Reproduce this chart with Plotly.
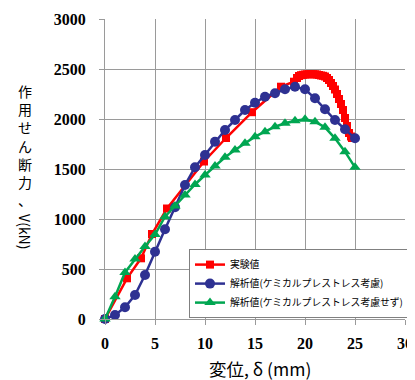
import plotly.graph_objects as go

# Experimental values (実験値)
exp_x = [0, 2.2, 3.6, 4.7, 6.2, 9.9, 12.1, 14.7, 17.6, 18.9, 19.2, 19.4, 19.6, 19.8, 20.0,
         20.2, 20.4, 20.6, 20.8, 21.0, 21.2, 21.4, 21.6, 21.8, 22.0, 22.2, 22.4, 22.6, 22.8,
         23.0, 23.2, 23.4, 23.6, 23.8, 24.0, 24.2, 24.4, 24.6, 24.7]
exp_y = [0, 407, 607, 850, 1105, 1575, 1810, 2068, 2323, 2373, 2410, 2430, 2438, 2442, 2445,
         2447, 2448, 2448, 2448, 2447, 2445, 2440, 2435, 2432, 2425, 2410, 2390, 2360, 2330,
         2295, 2250, 2200, 2150, 2090, 2010, 1930, 1860, 1825, 1810]

# Analysis with chemical prestress (解析値(ケミカルプレストレス考慮))
ana1_x = list(range(0, 26))
ana1_y = [0, 40, 117, 240, 440, 673, 897, 1117, 1340, 1517, 1640, 1773, 1890, 1990, 2090,
          2163, 2223, 2257, 2297, 2323, 2297, 2207, 2097, 1990, 1897, 1807]

# Analysis without chemical prestress (解析値(ケミカルプレストレス考慮せず))
ana2_x = list(range(0, 26))
ana2_y = [0, 223, 465, 600, 725, 845, 1023, 1130, 1240, 1345, 1440, 1530, 1617, 1690, 1757,
          1823, 1873, 1923, 1957, 1983, 1997, 1973, 1917, 1807, 1673, 1517]

names = ["実験値", "解析値(ケミカルプレストレス考慮)", "解析値(ケミカルプレストレス考慮せず)"]
x_ticks = [0, 5, 10, 15, 20, 25, 30]
y_ticks = [0, 500, 1000, 1500, 2000, 2500, 3000]

fig = go.Figure()
fig.add_trace(go.Scatter(x=exp_x, y=exp_y, mode="lines+markers", name=names[0],
                         line=dict(color="#FF0000", width=2.5),
                         marker=dict(symbol="square", size=8, color="#FF0000"),
                         cliponaxis=False))
fig.add_trace(go.Scatter(x=ana1_x, y=ana1_y, mode="lines+markers", name=names[1],
                         line=dict(color="#2E3192", width=2.5),
                         marker=dict(symbol="circle", size=10, color="#2E3192"),
                         cliponaxis=False))
fig.add_trace(go.Scatter(x=ana2_x, y=ana2_y, mode="lines+markers", name=names[2],
                         line=dict(color="#00A651", width=2.5),
                         marker=dict(symbol="triangle-up", size=10, color="#00A651"),
                         cliponaxis=False))

grid = "#9a9a9a"
tickfont = dict(family="Liberation Serif", size=16, color="black", weight="bold")
fig.update_xaxes(range=[0, 30], tickvals=x_ticks, showgrid=True, gridcolor=grid, gridwidth=1,
                 showline=True, linecolor=grid, linewidth=1, zeroline=False,
                 ticks="outside", ticklen=5, tickcolor=grid, tickfont=tickfont,
                 ticklabelstandoff=5, mirror=False)
fig.update_yaxes(range=[0, 3000], tickvals=y_ticks, showgrid=True, gridcolor=grid, gridwidth=1,
                 showline=True, linecolor=grid, linewidth=1, zeroline=False,
                 ticks="outside", ticklen=5, tickcolor=grid, tickfont=tickfont,
                 ticklabelstandoff=10)

cjk = "Noto Sans CJK JP"
fig.add_annotation(text="作<br>用<br>せ<br>ん<br>断<br>力<br>、", xref="paper", yref="paper",
                   x=-0.267, y=0.80, xanchor="center", yanchor="top", showarrow=False,
                   font=dict(family=cjk, size=14, color="black"))
fig.add_annotation(text="V(kN)", xref="paper", yref="paper", textangle=90,
                   x=-0.267, y=0.29, xanchor="center", yanchor="middle", showarrow=False,
                   font=dict(family=cjk, size=14, color="black"))
fig.add_annotation(text="変位, δ (mm)", xref="paper", yref="paper",
                   x=0.517, y=-0.165, xanchor="center", yanchor="middle", showarrow=False,
                   font=dict(family=cjk, size=17.5, color="black"))

# the page body adds an 8px offset; size and margins compensate so the plot
# lands where the reference has it
fig.update_layout(
    width=407, height=372,
    margin=dict(l=97, r=10, t=11, b=61, autoexpand=False),
    plot_bgcolor="white", paper_bgcolor="white",
    showlegend=True,
    legend=dict(x=0.28, y=0.233, xanchor="left", yanchor="top",
                bgcolor="white", bordercolor="#808080", borderwidth=1,
                font=dict(family=cjk, size=9.8, color="black"),
                tracegroupgap=0, itemwidth=30),
)

fig.write_html("out.html")
